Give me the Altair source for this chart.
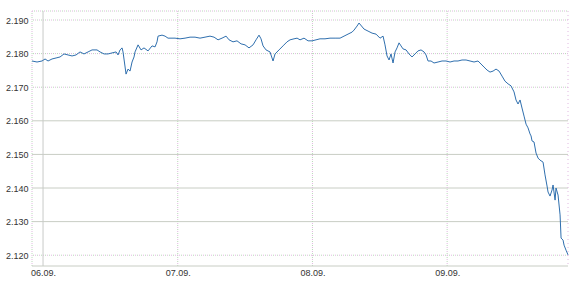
import altair as alt
import pandas as pd
from datetime import datetime, timedelta

# hours since 06.09. 00:00
hours = [-1.96, -1.07, -0.18, 0.36, 0.89, 1.60, 2.32, 3.03, 3.74, 4.45, 5.17, 5.88, 6.59, 7.30, 8.02,
         8.73, 9.62, 10.16, 10.87, 11.58, 12.29, 13.01, 13.36, 13.72, 14.08, 14.25, 14.79, 15.14, 15.50,
         15.86, 16.21, 16.39, 16.93, 17.46, 17.99, 18.71, 19.42, 19.96, 20.31, 20.49, 21.20, 21.74, 22.27,
         23.52, 24.41, 25.30, 26.19, 27.08, 27.97, 28.86, 29.75, 30.47, 31.18, 31.89, 32.61, 33.14, 33.85,
         34.56, 35.28, 35.99, 36.70, 37.42, 37.95, 38.48, 38.84, 39.20, 39.73, 40.44, 40.98, 41.34, 42.05,
         42.76, 43.47, 44.01, 44.72, 45.26, 45.79, 46.50, 47.22, 47.93, 48.64, 49.35, 50.24, 51.13, 52.03,
         52.92, 53.63, 54.34, 55.06, 55.41, 55.95, 56.30, 57.19, 57.91, 58.62, 59.33, 60.04, 60.58, 60.93,
         61.29, 61.65, 62.00, 62.36, 62.72, 63.07, 63.43, 63.78, 64.14, 64.68, 65.21, 65.74, 66.28, 66.81,
         67.35, 67.88, 68.24, 68.60, 69.13, 69.66, 70.38, 71.09, 71.80, 72.52, 73.23, 73.94, 74.65, 75.37,
         76.08, 76.79, 77.50, 78.04, 78.57, 79.11, 79.64, 80.18, 80.71, 81.25, 81.78, 82.31, 82.85, 83.38,
         83.92, 84.27, 84.63, 84.99, 85.34, 85.70, 86.06, 86.41, 86.77, 86.95, 87.13, 87.48, 87.84, 88.20,
         88.55, 89.09, 89.44, 89.80, 89.98, 90.33, 90.69, 90.87, 91.23, 91.40, 91.76, 92.12, 92.30, 92.65,
         92.83, 93.18, 93.54]
rates = [2.1778, 2.1775, 2.1778, 2.1784, 2.1778, 2.1784, 2.1787, 2.1790, 2.1799, 2.1796, 2.1793, 2.1796,
         2.1805, 2.1799, 2.1805, 2.1811, 2.1811, 2.1805, 2.1799, 2.1799, 2.1802, 2.1805, 2.1796, 2.1811,
         2.1817, 2.1805, 2.1739, 2.1754, 2.1748, 2.1775, 2.1790, 2.1805, 2.1826, 2.1811, 2.1817, 2.1808,
         2.1823, 2.1820, 2.1835, 2.1852, 2.1855, 2.1852, 2.1846, 2.1846, 2.1844, 2.1846, 2.1849, 2.1849,
         2.1846, 2.1849, 2.1852, 2.1849, 2.1841, 2.1846, 2.1852, 2.1841, 2.1835, 2.1838, 2.1829, 2.1826,
         2.1817, 2.1826, 2.1841, 2.1855, 2.1844, 2.1823, 2.1811, 2.1805, 2.1778, 2.1799, 2.1811, 2.1823,
         2.1835, 2.1841, 2.1844, 2.1846, 2.1841, 2.1846, 2.1838, 2.1838, 2.1841, 2.1844, 2.1844, 2.1846,
         2.1846, 2.1846, 2.1852, 2.1858, 2.1864, 2.1870, 2.1882, 2.1891, 2.1873, 2.1867, 2.1861, 2.1858,
         2.1846, 2.1852, 2.1826, 2.1793, 2.1781, 2.1799, 2.1772, 2.1805, 2.1817, 2.1832, 2.1823, 2.1814,
         2.1811, 2.1799, 2.1790, 2.1799, 2.1808, 2.1811, 2.1805, 2.1796, 2.1778, 2.1778, 2.1772, 2.1775,
         2.1778, 2.1778, 2.1775, 2.1778, 2.1778, 2.1781, 2.1781, 2.1778, 2.1775, 2.1778, 2.1769, 2.1760,
         2.1751, 2.1745, 2.1748, 2.1754, 2.1748, 2.1733, 2.1718, 2.1710, 2.1704, 2.1686, 2.1662, 2.1650,
         2.1662, 2.1638, 2.1614, 2.1590, 2.1579, 2.1561, 2.1555, 2.1540, 2.1537, 2.1504, 2.1489, 2.1483,
         2.1477, 2.1439, 2.1406, 2.1388, 2.1376, 2.1394, 2.1409, 2.1364, 2.1400, 2.1379, 2.1320, 2.1251,
         2.1245, 2.1230, 2.1215, 2.1201]

y_ticks = [2.12, 2.13, 2.14, 2.15, 2.16, 2.17, 2.18, 2.19]
solid_y = [2.13, 2.14, 2.15, 2.16]
dotted_y = [2.12, 2.17, 2.18, 2.19]
day_ticks = ["2011-09-06T00:00:00", "2011-09-07T00:00:00", "2011-09-08T00:00:00", "2011-09-09T00:00:00"]
solid_x = ["2011-09-06T00:00:00"]
dotted_x = ["2011-09-07T00:00:00", "2011-09-08T00:00:00", "2011-09-09T00:00:00"]

base = datetime(2011, 9, 6)
df = pd.DataFrame({
    "t": [(base + timedelta(hours=h)).strftime("%Y-%m-%dT%H:%M:%S") for h in hours],
    "v": rates,
})

x_dom = [alt.DateTime(year=2011, month=9, date=5, hours=22, minutes=2),
         alt.DateTime(year=2011, month=9, date=9, hours=21, minutes=32)]
y_dom = [2.11679, 2.19268]

xs = alt.Scale(domain=x_dom, nice=False)
ys = alt.Scale(domain=y_dom, nice=False, zero=False)

xa = alt.Axis(values=day_ticks, format="%d.%m.", title=None, grid=False, ticks=False, domain=False,
              labelFontSize=9, labelColor="#333333", labelFont="Liberation Sans", labelPadding=2,
              labelOverlap=False)
ya = alt.Axis(values=y_ticks, format=".3f", title=None, grid=False, ticks=False, domain=False,
              labelFontSize=9, labelColor="#333333", labelFont="Liberation Sans", labelPadding=4,
              labelOverlap=False)

W, H = 536, 255

line = alt.Chart(df).mark_line(color="#2f6fae", strokeWidth=1, interpolate="linear").encode(
    x=alt.X("t:T", scale=xs, axis=xa),
    y=alt.Y("v:Q", scale=ys, axis=ya),
)

hs = alt.Chart(pd.DataFrame({"v": solid_y})).mark_rule(color="#c8cdc4", strokeWidth=1).encode(
    y=alt.Y("v:Q", scale=ys, axis=ya))
hd1 = alt.Chart(pd.DataFrame({"v": dotted_y})).mark_rule(color="#e0b8e0", strokeWidth=1, strokeDash=[1, 3]).encode(
    y=alt.Y("v:Q", scale=ys, axis=ya))
hd2 = alt.Chart(pd.DataFrame({"v": dotted_y})).mark_rule(color="#b8d8b8", strokeWidth=1, strokeDash=[1, 3],
                                                         strokeDashOffset=2).encode(y=alt.Y("v:Q", scale=ys, axis=ya))
vs = alt.Chart(pd.DataFrame({"t": solid_x})).mark_rule(color="#c8cac8", strokeWidth=1).encode(
    x=alt.X("t:T", scale=xs, axis=xa))
vd1 = alt.Chart(pd.DataFrame({"t": dotted_x})).mark_rule(color="#e0b8e0", strokeWidth=1, strokeDash=[1, 3]).encode(
    x=alt.X("t:T", scale=xs, axis=xa))
vd2 = alt.Chart(pd.DataFrame({"t": dotted_x})).mark_rule(color="#b8d8b8", strokeWidth=1, strokeDash=[1, 3],
                                                         strokeDashOffset=2).encode(x=alt.X("t:T", scale=xs, axis=xa))

# frame
top1 = alt.Chart(pd.DataFrame({"a": [0]})).mark_rule(color="#e0b8e0", strokeDash=[1, 3]).encode(
    x=alt.value(0), x2=alt.value(W), y=alt.value(0))
top2 = alt.Chart(pd.DataFrame({"a": [0]})).mark_rule(color="#b8d8b8", strokeDash=[1, 3], strokeDashOffset=2).encode(
    x=alt.value(0), x2=alt.value(W), y=alt.value(0))
left1 = alt.Chart(pd.DataFrame({"a": [0]})).mark_rule(color="#e0b8e0", strokeDash=[1, 3]).encode(
    x=alt.value(0), y=alt.value(0), y2=alt.value(H))
left2 = alt.Chart(pd.DataFrame({"a": [0]})).mark_rule(color="#b8d8b8", strokeDash=[1, 3], strokeDashOffset=2).encode(
    x=alt.value(0), y=alt.value(0), y2=alt.value(H))
right1 = alt.Chart(pd.DataFrame({"a": [0]})).mark_rule(color="#e0b8e0", strokeDash=[1, 3]).encode(
    x=alt.value(W), y=alt.value(0), y2=alt.value(H))
bottom = alt.Chart(pd.DataFrame({"a": [0]})).mark_rule(color="#c8cdc4").encode(
    x=alt.value(0), x2=alt.value(W), y=alt.value(H))

chart = alt.layer(hs, hd1, hd2, vs, vd1, vd2, top1, top2, left1, left2, right1, bottom, line).properties(
    width=W, height=H,
    autosize=alt.AutoSizeParams(type="none"),
    padding={"left": 32, "top": 11, "right": 6, "bottom": 19},
    background="white",
).configure_view(stroke=None)

chart.save("out.html", embed_options={"renderer": "svg", "actions": False})
